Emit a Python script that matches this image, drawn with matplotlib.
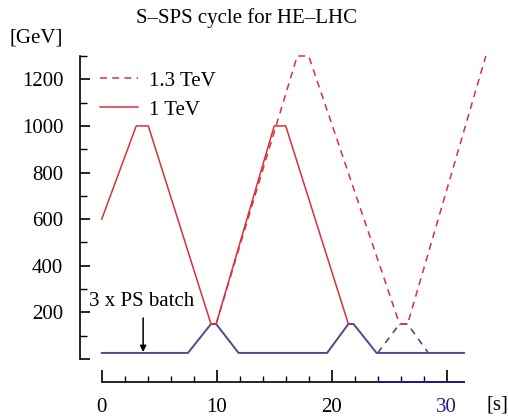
import matplotlib
matplotlib.use("Agg")
import matplotlib.pyplot as plt
from matplotlib.lines import Line2D
from matplotlib.ticker import FixedLocator

plt.rcParams['font.family'] = ['Liberation Serif', 'DejaVu Serif']

# Data (time [s], energy [GeV])
t_red_1tev = [0, 3.0, 4.05, 9.5, 9.95, 15.0, 16.0, 21.45]
e_red_1tev = [600, 1000, 1000, 150, 150, 1000, 1000, 150]

t_red_13tev = [9.95, 17.0, 18.0, 25.9, 26.6, 33.4]
e_red_13tev = [150, 1300, 1300, 150, 150, 1300]

t_blue = [0, 7.5, 9.5, 9.95, 11.9, 19.6, 21.45, 21.9, 23.9, 31.5]
e_blue = [26, 26, 150, 150, 26, 26, 150, 150, 26, 26]

t_blue_dash = [24.0, 25.9, 26.6, 28.4]
e_blue_dash = [26, 150, 150, 26]

x_ticks = [0, 10, 20, 30]
x_ticklabels = ['0', '10', '20', '30']
x_minor = [2, 4, 6, 8, 12, 14, 16, 18, 22, 24, 26, 28]
y_ticks = [0, 200, 400, 600, 800, 1000, 1200]
y_ticklabels = ['', '200', '400', '600', '800', '1000', '1200']
y_minor = [100, 300, 500, 700, 900, 1100, 1300]

arrow_t = 3.6
arrow_e_tail = 176
arrow_e_head = 30

RED = '#d8303c'
BLUE = '#4b4b8c'
NAVY = '#1c1c8a'

W, H = 508, 417
fig = plt.figure(figsize=(W / 100, H / 100), dpi=100)
ax_left, ax_right = 80, 492.7
ax_top, ax_bottom = 49.0, 382.3
ax = fig.add_axes([ax_left / W, 1 - ax_bottom / H, (ax_right - ax_left) / W, (ax_bottom - ax_top) / H])
ax.set_xlim(-1.89, 34)
ax.set_ylim(-100, 1330)

ax.plot(t_blue, e_blue, color=BLUE, lw=1.4, zorder=2, clip_on=False)
ax.plot(t_blue_dash, e_blue_dash, color=BLUE, lw=1.2, ls=(0, (4, 3.5)), zorder=2, clip_on=False)
ax.plot(t_red_13tev, e_red_13tev, color=RED, lw=1.1, ls=(0, (4.5, 3.5)), zorder=3, clip_on=False)
ax.plot(t_red_1tev, e_red_1tev, color=RED, lw=1.1, zorder=3, clip_on=False)

for s in ['top', 'right']:
    ax.spines[s].set_visible(False)
ax.spines['left'].set_bounds(0, 1300)
ax.spines['bottom'].set_bounds(0, 31.5)
for s in ['left', 'bottom']:
    ax.spines[s].set_linewidth(1.2)

# blue part of the time axis
ax.plot([24, 31.5], [0, 0], color=NAVY, lw=1.4, transform=ax.get_xaxis_transform(), clip_on=False, zorder=5)

ax.xaxis.set_major_locator(FixedLocator(x_ticks))
ax.set_xticklabels(x_ticklabels)
ax.xaxis.set_minor_locator(FixedLocator(x_minor))
ax.yaxis.set_major_locator(FixedLocator(y_ticks))
ax.set_yticklabels(y_ticklabels)
ax.yaxis.set_minor_locator(FixedLocator(y_minor))

ax.tick_params(axis='both', which='both', direction='in', color='black', labelsize=15)
ax.tick_params(axis='x', which='major', length=9, width=1.2, pad=11)
ax.tick_params(axis='x', which='minor', length=4.5, width=1.0)
ax.tick_params(axis='y', which='major', length=7.5, width=1.2, pad=12)
ax.tick_params(axis='y', which='minor', length=5, width=1.0)
ax.get_xticklabels()[3].set_color(NAVY)

# legend
handles = [Line2D([], [], color=RED, lw=1.1, ls=(0, (4.5, 3.5))),
           Line2D([], [], color=RED, lw=1.1)]
leg = ax.legend(handles, ['1.3 TeV', '1 TeV'], loc='upper left',
                bbox_to_anchor=(100 / W, 1 - 71 / H), bbox_transform=fig.transFigure,
                frameon=False, fontsize=15, borderpad=0, borderaxespad=0,
                handlelength=1.8, handletextpad=0.55, labelspacing=0.45)

ax.annotate('', xy=(arrow_t, arrow_e_head), xytext=(arrow_t, arrow_e_tail),
            arrowprops=dict(arrowstyle='-|>', color='black', lw=1.1,
                            mutation_scale=9, shrinkA=0, shrinkB=0))
ax.text(arrow_t - 0.1, 247, '3 x PS batch', fontsize=15, ha='center', va='center')

fig.text(246 / W, 1 - 18.5 / H, 'S–SPS cycle for HE–LHC', fontsize=15, ha='center', va='center')
fig.text(36 / W, 1 - 38 / H, '[GeV]', fontsize=15, ha='center', va='center')
fig.text(497 / W, 1 - 405 / H, '[s]', fontsize=15, ha='center', va='center')

fig.savefig('out.png', dpi=100)
